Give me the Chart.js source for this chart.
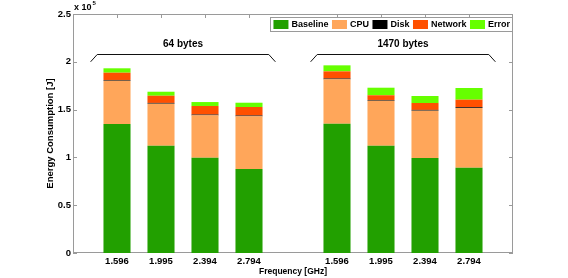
<!DOCTYPE html>
<html>
<head>
<meta charset="utf-8">
<script src="https://cdn.jsdelivr.net/npm/chart.js@4.4.0/dist/chart.umd.min.js"></script>
<style>
html,body{margin:0;padding:0;background:#fff;}
#wrap{width:568px;height:278px;}
</style>
</head>
<body>
<div id="wrap"><canvas id="c" width="568" height="278"></canvas></div>
<script>
const groups = ['64 bytes', '1470 bytes'];
const frequencies = ['1.596', '1.995', '2.394', '2.794'];
const seriesNames = ['Baseline', 'CPU', 'Disk', 'Network', 'Error'];
const baseline = [134900, 112200, 99700, 87900, 135200, 112200, 99400, 89200];
const cpu      = [45300, 44000, 44300, 55100, 46500, 47100, 49500, 62500];
const disk     = [800, 800, 800, 800, 800, 800, 800, 800];
const network  = [7600, 7500, 9000, 8900, 7500, 4900, 7200, 7900];
const errorE   = [4600, 4200, 4100, 4500, 6300, 7900, 7300, 12200];
const yTicks = [0, 0.5, 1, 1.5, 2, 2.5];

const colors = ['#22a000', '#ffa65a', '#000000', '#ff5000', '#66ff00'];
const FONT = '"Liberation Sans", Arial, Helvetica, sans-serif';

// build category slots: blank, group1 x4, blank, group2 x4, blank
const labels = [''];
const slotIndex = [];
groups.forEach((g, gi) => {
  frequencies.forEach(f => { slotIndex.push(labels.length); labels.push(f); });
  labels.push('');
});
function toSlots(arr) {
  const out = labels.map(() => null);
  arr.forEach((v, i) => { out[slotIndex[i]] = v; });
  return out;
}
const allSeries = [baseline, cpu, disk, network, errorE];
const datasets = allSeries.map((s, i) => ({
  label: seriesNames[i],
  data: toSlots(s),
  backgroundColor: colors[i],
  borderWidth: 0,
  categoryPercentage: 1,
  barPercentage: 0.615
}));

const axisColor = '#9a9a9a';

const decorPlugin = {
  id: 'decor',
  beforeDatasetsDraw(chart) {
    const {ctx, chartArea: a, scales} = chart;
    const x = scales.x, y = scales.y;
    ctx.save();
    ctx.strokeStyle = axisColor;
    ctx.lineWidth = 1;
    ctx.strokeRect(Math.round(a.left) + 0.5, Math.round(a.top) + 0.5,
      Math.round(a.right - a.left) - 1, Math.round(a.bottom - a.top) - 1);
    ctx.beginPath();
    slotIndex.forEach(si => {
      const px = Math.round(x.getPixelForValue(si)) + 0.5;
      ctx.moveTo(px, a.top); ctx.lineTo(px, a.top + 4);
      ctx.moveTo(px, a.bottom); ctx.lineTo(px, a.bottom - 4);
    });
    yTicks.forEach(t => {
      const py = Math.round(y.getPixelForValue(t * 1e5)) + 0.5;
      ctx.moveTo(a.left, py); ctx.lineTo(a.left + 4, py);
      ctx.moveTo(a.right, py); ctx.lineTo(a.right - 4, py);
    });
    ctx.stroke();
    ctx.restore();
  },
  afterDraw(chart) {
    const {ctx, chartArea: a, scales} = chart;
    const x = scales.x, y = scales.y;
    ctx.save();
    // exponent label
    ctx.fillStyle = '#000';
    ctx.font = 'bold 9px ' + FONT;
    ctx.textBaseline = 'alphabetic';
    ctx.textAlign = 'left';
    ctx.fillText('x 10', a.left + 1, a.top - 4);
    const w10 = ctx.measureText('x 10').width;
    ctx.font = 'bold 6px ' + FONT;
    ctx.fillText('5', a.left + 2 + w10, a.top - 9);

    // group brackets
    ctx.strokeStyle = '#111';
    ctx.lineWidth = 1;
    groups.forEach((g, gi) => {
      const first = slotIndex[gi * frequencies.length];
      const last = slotIndex[gi * frequencies.length + frequencies.length - 1];
      const x0 = x.getPixelForValue(first - 0.6);
      const x1 = x.getPixelForValue(first - 0.45);
      const x2 = x.getPixelForValue(last + 0.45);
      const x3 = x.getPixelForValue(last + 0.6);
      const yEnd = y.getPixelForValue(2.0e5);
      const yTop = Math.round(y.getPixelForValue(2.08e5)) + 0.5;
      ctx.beginPath();
      ctx.moveTo(x0, yEnd); ctx.lineTo(x1, yTop); ctx.lineTo(x2, yTop); ctx.lineTo(x3, yEnd);
      ctx.stroke();
      ctx.font = 'bold 10px ' + FONT;
      ctx.textAlign = 'center';
      ctx.textBaseline = 'middle';
      ctx.fillStyle = '#000';
      ctx.fillText(g, (x1 + x2) / 2, y.getPixelForValue(2.186e5));
    });

    // legend box
    ctx.font = 'bold 9px ' + FONT;
    ctx.textAlign = 'left';
    ctx.textBaseline = 'middle';
    const swW = 15, swH = 9, gapSw = 3, gapItem = 3.5, padL = 3, padR = 2;
    let total = padL + padR;
    seriesNames.forEach((n, i) => {
      total += swW + gapSw + ctx.measureText(n).width + (i < seriesNames.length - 1 ? gapItem : 0);
    });
    const boxRight = a.right - 1;
    const boxLeft = boxRight - total;
    const boxTop = a.top + 3, boxH = 14;
    ctx.fillStyle = '#fff';
    ctx.fillRect(boxLeft, boxTop, total, boxH);
    ctx.strokeStyle = axisColor;
    ctx.strokeRect(Math.round(boxLeft) + 0.5, Math.round(boxTop) + 0.5, Math.round(total), boxH);
    let cx = boxLeft + padL;
    const cy = boxTop + boxH / 2 + 0.5;
    seriesNames.forEach((n, i) => {
      ctx.fillStyle = colors[i];
      ctx.fillRect(cx, cy - swH / 2, swW, swH);
      cx += swW + gapSw;
      ctx.fillStyle = '#000';
      ctx.fillText(n, cx, cy + 0.5);
      cx += ctx.measureText(n).width + gapItem;
    });
    ctx.restore();
  }
};

new Chart(document.getElementById('c'), {
  type: 'bar',
  data: { labels, datasets },
  options: {
    responsive: false,
    animation: false,
    devicePixelRatio: 1,
    layout: { padding: { left: 0, right: 55, top: 14, bottom: 0 } },
    plugins: { legend: { display: false }, tooltip: { enabled: false } },
    scales: {
      x: {
        stacked: true,
        offset: false,
        grid: { display: false, drawTicks: false },
        border: { display: false },
        ticks: {
          autoSkip: false, maxRotation: 0, minRotation: 0, padding: 3,
          color: '#000', font: { family: FONT, size: 9.5, weight: 'bold' }
        },
        title: {
          display: true, text: 'Frequency [GHz]', color: '#000',
          font: { family: FONT, size: 8.5, weight: 'bold' },
          padding: { top: 0, bottom: 1 }
        },
        afterFit(s) { s.height = 25; }
      },
      y: {
        stacked: true,
        min: 0, max: 2.5e5,
        grid: { display: false, drawTicks: false },
        border: { display: false },
        afterBuildTicks(s) { s.ticks = yTicks.map(v => ({ value: v * 1e5 })); },
        ticks: {
          padding: 2, color: '#000',
          font: { family: FONT, size: 9.5, weight: 'bold' },
          callback: v => String(v / 1e5)
        },
        title: {
          display: true, text: 'Energy Consumption [J]', color: '#000',
          font: { family: FONT, size: 9.5, weight: 'bold' },
          padding: { top: 45, bottom: 0 }
        },
        afterFit(s) { s.width = 73; }
      }
    }
  },
  plugins: [decorPlugin]
});
</script>
</body>
</html>
